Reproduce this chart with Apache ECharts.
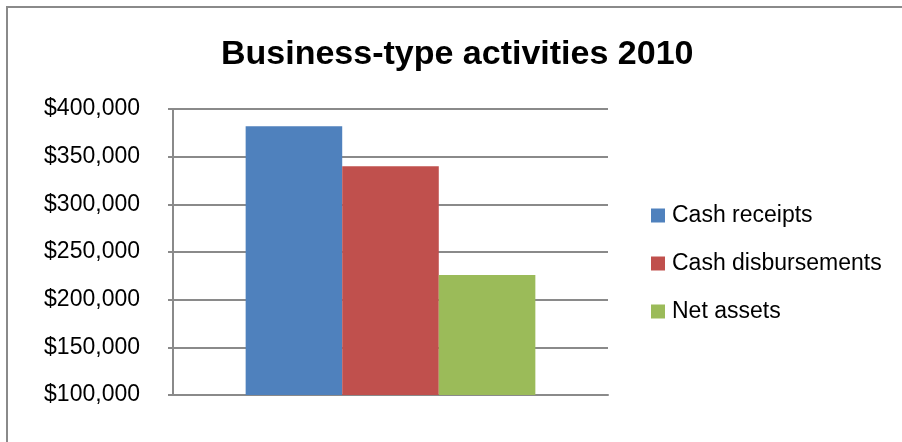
<!DOCTYPE html>
<html>
<head>
<meta charset="utf-8">
<script src="https://cdn.jsdelivr.net/npm/echarts@6/dist/echarts.min.js"></script>
<style>
html,body{margin:0;padding:0;background:#fff;}
#c{width:902px;height:442px;}
</style>
</head>
<body>
<div id="c"></div>
<script>
var categories = ['2010'];
var seriesNames = ['Cash receipts', 'Cash disbursements', 'Net assets'];
var cashReceipts = [382000];
var cashDisbursements = [340000];
var netAssets = [226000];
var yTicks = [100000, 150000, 200000, 250000, 300000, 350000, 400000];
var colors = ['#4F81BD', '#C0504D', '#9BBB59'];

var chart = echarts.init(document.getElementById('c'), null, {renderer: 'canvas'});
var font = 'Liberation Sans';
var values = [cashReceipts, cashDisbursements, netAssets];
chart.setOption({
  animation: false,
  color: colors,
  title: {
    text: 'Business-type activities 2010',
    left: 216,
    top: 33,
    textStyle: {fontFamily: font, fontSize: 34, fontWeight: 'bold', color: '#000'}
  },
  graphic: [{
    type: 'rect',
    shape: {x: 7, y: 7, width: 1000, height: 1000},
    style: {fill: 'none', stroke: '#8a8a8a', lineWidth: 2},
    silent: true
  }],
  legend: {
    orient: 'vertical',
    left: 651,
    top: 204,
    padding: 0,
    itemWidth: 14,
    itemHeight: 14,
    itemGap: 25,
    icon: 'rect',
    data: seriesNames,
    textStyle: {fontFamily: font, fontSize: 23, color: '#000', lineHeight: 23, padding: [0, 0, 0, 2]}
  },
  grid: {left: 173, right: 294, top: 109, bottom: 47},
  xAxis: {
    type: 'category',
    data: categories,
    axisLabel: {show: false},
    axisTick: {show: false},
    axisLine: {lineStyle: {color: '#8a8a8a', width: 2}}
  },
  yAxis: {
    type: 'value',
    min: yTicks[0],
    max: yTicks[yTicks.length - 1],
    interval: yTicks[1] - yTicks[0],
    axisLine: {show: true, lineStyle: {color: '#8a8a8a', width: 2}},
    axisTick: {show: true, length: 5, lineStyle: {color: '#8a8a8a', width: 2}},
    splitLine: {lineStyle: {color: '#8a8a8a', width: 2}},
    axisLabel: {
      margin: 33,
      fontFamily: font,
      fontSize: 23,
      color: '#000',
      formatter: function (v) { return '$' + v.toLocaleString('en-US'); }
    }
  },
  series: seriesNames.map(function (n, i) {
    return {
      name: n,
      type: 'bar',
      data: values[i],
      barGap: '0%',
      barCategoryGap: '33.4%'
    };
  })
});
</script>
</body>
</html>
